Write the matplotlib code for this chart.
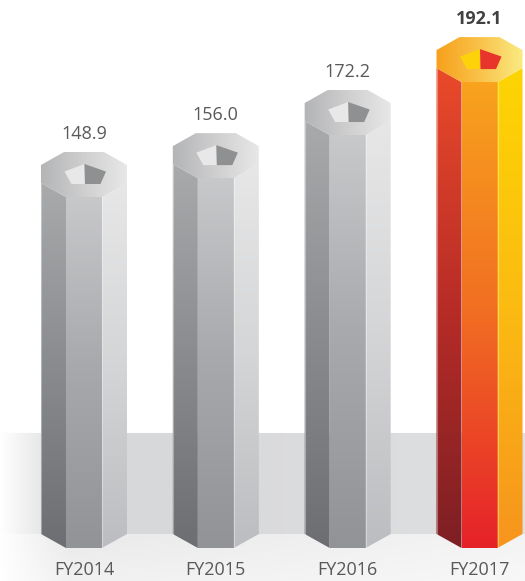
import numpy as np
import matplotlib
matplotlib.use("Agg")
import matplotlib.pyplot as plt
from matplotlib.patches import Polygon
from matplotlib.colors import LinearSegmentedColormap

# ---- data ----
categories = ["FY2014", "FY2015", "FY2016", "FY2017"]
values = [148.9, 156.0, 172.2, 192.1]
value_labels = ["148.9", "156.0", "172.2", "192.1"]
highlight = [False, False, False, True]

plt.rcParams['font.family'] = ['Open Sans', 'DejaVu Sans']

W, H = 525, 581
fig = plt.figure(figsize=(W / 100, H / 100), dpi=100)
ax = fig.add_axes([0, 0, 1, 1])
XL = (-0.637, 3.345)
YL = (-3.9, 214.5)
ax.set_xlim(*XL)
ax.set_ylim(*YL)
ax.axis('off')
px = (XL[1] - XL[0]) / W
py = (YL[1] - YL[0]) / H

# ---- background (wall band + floor) ----
xs = np.linspace(0, 1, W)
bg = np.ones((H, W, 3))
wall_top, floor_top = 433, 534
fade = np.clip(xs * W / 70.0, 0, 1)
wall_col = np.array([0.835, 0.839, 0.847])[None, :] * (1 - xs[:, None] * 0.45) + np.array([0.92, 0.92, 0.92])[None, :] * (xs[:, None] * 0.45)
wall = 1 - (1 - wall_col) * fade[:, None]
floor_col = np.array([0.91, 0.91, 0.915])[None, :] * (1 - xs[:, None]) + np.array([0.955, 0.955, 0.955])[None, :] * xs[:, None]
floor = 1 - (1 - floor_col) * fade[:, None]
bg[wall_top:floor_top] = wall[None, :, :]
for r in range(floor_top, H):
    t = (r - floor_top) / (H - floor_top)
    bg[r] = 1 - (1 - floor) * (1 - 0.35 * t)
ax.imshow(bg, extent=[XL[0], XL[1], YL[0], YL[1]], aspect='auto', zorder=0, interpolation='bilinear')

# ---- styles ----
gray = dict(
    left=["#a9aaac", "#8a8b8e", "#6d6e72"],
    front=["#cacbcd", "#a8a9ac", "#929397"],
    right=["#e7e7e8", "#d4d5d6", "#bcbdc0"],
    cap=["#b3b4b6", "#cfcfd0", "#e8e8e8"],
    hole_l="#e8e8e9", hole_r="#8f9092",
    txt="#58595b", weight="normal")
orange = dict(
    left=["#ea4a2a", "#b72c27", "#7d1f24"],
    front=["#f9a61d", "#f16f22", "#e6222a"],
    right=["#fed503", "#fbbb12", "#f7941d"],
    cap=["#f7a01b", "#f9c24a", "#fbec84"],
    hole_l="#fdd20b", hole_r="#e8352b",
    txt="#414042", weight="bold")

floor_side = YL[0] + (H - floor_top) * py
floor_front = floor_side - 14 * py


def grad_fill(verts, colors, extent, vertical=True, z=2):
    poly = Polygon(verts, closed=True, facecolor='none', edgecolor='none', zorder=z)
    ax.add_patch(poly)
    cmap = LinearSegmentedColormap.from_list("g", colors)
    if vertical:
        arr = np.linspace(0, 1, 256)[:, None]
    else:
        arr = np.linspace(0, 1, 256)[None, :]
    im = ax.imshow(arr, cmap=cmap, extent=extent, aspect='auto', origin='upper',
                   zorder=z, interpolation='bilinear', vmin=0, vmax=1)
    im.set_clip_path(poly)


for i, (v, hl) in enumerate(zip(values, highlight)):
    st = orange if hl else gray
    cx, cy = i, v

    def P(dx, dy):
        return (cx + dx * px, cy + dy * py)

    top_side = cy - 8.5 * py
    ext = [cx - 44 * px, cx + 44 * px, floor_front, top_side]
    # left face
    grad_fill([P(-43, -8.5), P(-18, -22.5), (cx - 18 * px, floor_front), (cx - 43 * px, floor_side)],
              st["left"], ext)
    # front face
    grad_fill([P(-18, -22.5), P(18, -22.5), (cx + 18 * px, floor_front), (cx - 18 * px, floor_front)],
              st["front"], ext)
    # right face
    grad_fill([P(18, -22.5), P(43, -8.5), (cx + 43 * px, floor_side), (cx + 18 * px, floor_front)],
              st["right"], ext)
    # subtle edge highlights
    for dx, (a, b) in [(18, (-22.5, None)), (-43, (-8.5, None))]:
        yb = floor_front if abs(dx) == 18 else floor_side
        ax.plot([cx + dx * px, cx + dx * px], [cy + a * py, yb], color='white', alpha=0.35, lw=0.8, zorder=3)
    # top cap
    cap = [P(-20, 22.5), P(20, 22.5), P(43, 9.5), P(43, -8.5), P(18, -22.5), P(-18, -22.5), P(-43, -8.5), P(-43, 9.5)]
    grad_fill(cap, st["cap"], [cx - 44 * px, cx + 44 * px, cy - 23 * py, cy + 23 * py], vertical=False, z=4)
    # pentagon hole
    ax.add_patch(Polygon([P(-19.5, 3), P(0.5, 10.5), P(1, -9.5), P(-12.5, -9.5)],
                         closed=True, facecolor=st["hole_l"], edgecolor='none', zorder=5))
    ax.add_patch(Polygon([P(0.5, 10.5), P(22, 3), P(16.5, -9.5), P(1, -9.5)],
                         closed=True, facecolor=st["hole_r"], edgecolor='none', zorder=5))
    # value label
    ax.text(cx, cy + 35.5 * py, value_labels[i], ha='center', va='baseline',
            fontsize=13, color=st["txt"], fontweight=st["weight"], zorder=6)
    # category label
    ax.text(cx, YL[0] + 6 * py, categories[i], ha='center', va='baseline',
            fontsize=13, color="#58595b", zorder=6)

fig.savefig("out.png", dpi=100)
